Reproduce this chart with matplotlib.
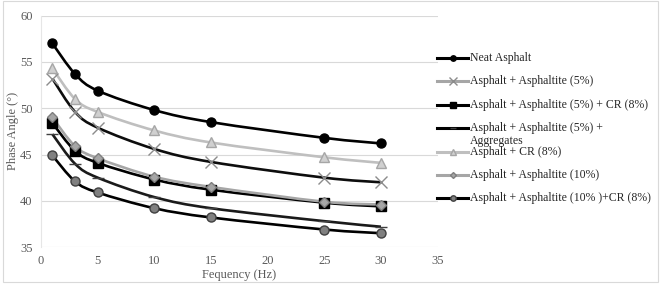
import numpy as np
import matplotlib
matplotlib.use("Agg")
import matplotlib.pyplot as plt
from matplotlib.path import Path
from matplotlib.patches import PathPatch, Rectangle
from matplotlib.lines import Line2D

plt.rcParams['font.family'] = ['Liberation Serif', 'DejaVu Serif']

# Data
freq = [1, 3, 5, 10, 15, 25, 30]
neat = [57.0, 53.7, 51.9, 49.8, 48.5, 46.8, 46.2]
asp5 = [53.2, 49.6, 47.9, 45.6, 44.2, 42.5, 42.0]
asp5_cr = [48.4, 45.4, 44.1, 42.3, 41.2, 39.8, 39.4]
asp5_agg = [47.2, 44.0, 42.5, 40.4, 39.2, 37.8, 37.2]
cr8 = [54.3, 51.0, 49.6, 47.6, 46.3, 44.7, 44.1]
asp10 = [49.0, 45.9, 44.6, 42.6, 41.5, 39.9, 39.6]
asp10_cr = [44.9, 42.1, 40.9, 39.2, 38.2, 36.9, 36.5]

labels = ["Neat Asphalt",
          "Asphalt + Asphaltite (5%)",
          "Asphalt + Asphaltite (5%) + CR (8%)",
          "Asphalt + Asphaltite (5%) +\nAggregates",
          "Asphalt + CR (8%)",
          "Asphalt + Asphaltite (10%)",
          "Asphalt + Asphaltite (10% )+CR (8%)"]
series = [neat, asp5, asp5_cr, asp5_agg, cr8, asp10, asp10_cr]

# (line colour, marker, marker face, marker edge, marker size, legend line colour)
styles = [
    ("#000000", "o", "#000000", "#000000", 6.5, "#000000"),
    ("#0d0d0d", "x", "#8c8c8c", "#8c8c8c", 9, "#a6a6a6"),
    ("#000000", "s", "#000000", "#000000", 6.5, "#000000"),
    ("#1a1a1a", "_", "#404040", "#404040", 8, "#000000"),
    ("#bfbfbf", "^", "#d0d0d0", "#a6a6a6", 7, "#bfbfbf"),
    ("#a6a6a6", "D", "#a6a6a6", "#7f7f7f", 5, "#a6a6a6"),
    ("#000000", "o", "#808080", "#404040", 6.5, "#000000"),
]


def smooth_path(x, y):
    # cubic bezier through the points (like Excel's smoothed line)
    pts = np.column_stack([x, y]).astype(float)
    n = len(pts)
    verts = [pts[0]]
    codes = [Path.MOVETO]
    for i in range(n - 1):
        p0 = pts[i - 1] if i > 0 else pts[i]
        p1 = pts[i]
        p2 = pts[i + 1]
        p3 = pts[i + 2] if i + 2 < n else pts[i + 1]
        c1 = p1 + (p2 - p0) / 6.0
        c2 = p2 - (p3 - p1) / 6.0
        verts += [c1, c2, p2]
        codes += [Path.CURVE4] * 3
    return Path(verts, codes)


fig = plt.figure(figsize=(6.62, 2.85), dpi=100)
ax = fig.add_axes([0.062, 0.133, 0.599, 0.812])

for vals, st in zip(series, styles):
    lc, mk, mf, me, ms, _ = st
    ax.add_patch(PathPatch(smooth_path(freq, vals), fill=False, edgecolor=lc,
                           lw=1.9, zorder=3))
    ax.plot(freq, vals, linestyle='none', marker=mk, markerfacecolor=mf,
            markeredgecolor=me, markersize=ms, markeredgewidth=1.0, zorder=4)

ax.set_xlim(0, 35)
ax.set_ylim(35, 60)
ax.set_xticks(np.arange(0, 36, 5))
ax.set_yticks(np.arange(35, 61, 5))
ax.yaxis.grid(True, color="#d9d9d9", lw=0.8)
ax.set_axisbelow(True)
for s in ['top', 'right', 'bottom']:
    ax.spines[s].set_visible(False)
ax.spines['left'].set_color("#e6e6e6")
ax.tick_params(length=0, labelsize=9, colors="#595959", pad=6)
ax.set_xlabel("Fequency (Hz)", fontsize=9, color="#595959", labelpad=1)
ax.set_ylabel("Phase Angle (°)", fontsize=9, color="#595959", labelpad=1)

# legend drawn by hand to keep Excel's row spacing
W, H = 662.0, 285.0
row_y = [58, 81.4, 104.8, 128.2, 151.6, 175, 198.4]
for lab, st, yy in zip(labels, styles, row_y):
    lc, mk, mf, me, ms, leg_c = st
    fy = 1 - yy / H
    fig.add_artist(Line2D([437 / W, 468 / W], [fy, fy], color=leg_c, lw=2.2,
                          transform=fig.transFigure))
    fig.add_artist(Line2D([452.5 / W], [fy], marker=mk, markersize=ms * 0.6,
                          markerfacecolor=mf, markeredgecolor=me,
                          transform=fig.transFigure))
    if "\n" in lab:
        fig.text(470 / W, fy + 6.5 / H, lab, fontsize=8.5, color="#262626",
                 va='top', ha='left', linespacing=1.1)
    else:
        fig.text(470 / W, fy, lab, fontsize=8.5, color="#262626",
                 va='center', ha='left')

fig.add_artist(Rectangle((0.004, 0.01), 0.99, 0.985, fill=False,
                         edgecolor="#d9d9d9", lw=0.8, transform=fig.transFigure))

fig.savefig("out.png", dpi=100)
